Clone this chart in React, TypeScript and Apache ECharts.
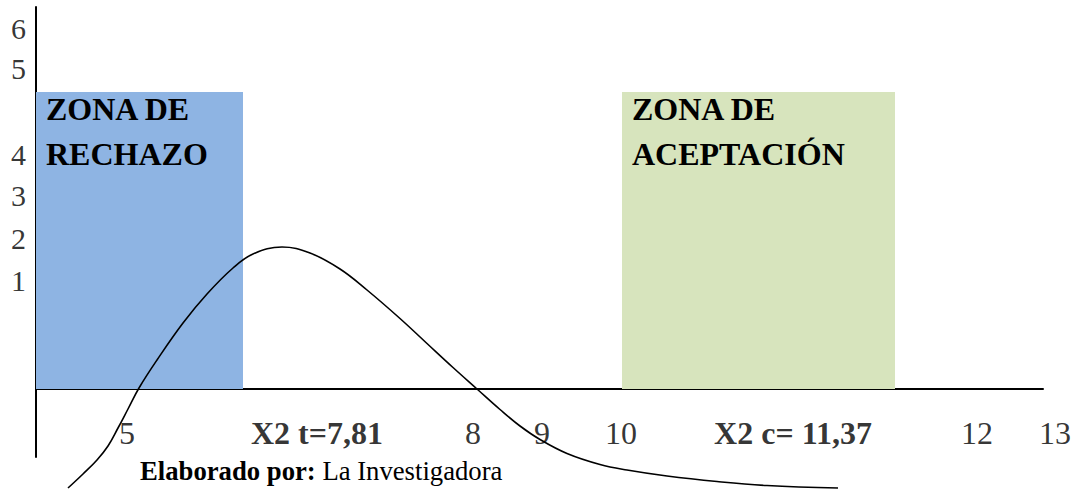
import React, { useEffect, useRef } from "react";
import * as echarts from "echarts";

// Drawing units: x measured along the horizontal axis, y above (+) / below (-) it.
const CURVE_X = [32, 47, 61, 72, 82, 92, 103, 121, 147, 171, 197, 217, 246, 274, 304, 331, 364, 391, 417, 441, 464, 484, 504, 531, 564, 591, 631, 681, 731, 802];
const CURVE_Y = [-99, -85, -71, -57, -39, -20, 1, 29, 66, 95, 121, 135, 142, 136, 120, 99, 70.5, 45.5, 21.5, 0, -20.5, -37, -50.5, -64.5, -75.5, -81, -87, -92.5, -96.5, -99];

const Y_TICK_LABELS = ["6", "5", "4", "3", "2", "1"];
const Y_TICK_POS = [361, 321, 235, 194, 151, 109];

const X_TICK_LABELS = ["5", "X2 t=7,81", "8", "9", "10", "X2 c= 11,37", "12", "13"];
const X_TICK_POS = [91, 281, 437, 506, 585, 757, 941, 1019];
const X_TICK_BOLD = [false, true, false, false, false, true, false, false];

const ZONE_NAMES = ["ZONA DE\nRECHAZO", "ZONA DE\nACEPTACIÓN"];
const ZONE_X0 = [0, 586];
const ZONE_X1 = [207, 859];
const ZONE_TOP = [297, 297];
const ZONE_COLORS = ["#8EB4E3", "#D7E4BD"];

const SERIF = "Liberation Serif";

export default function App() {
  const ref = useRef<HTMLDivElement>(null);
  useEffect(() => {
    if (!ref.current) return;
    const chart = echarts.init(ref.current, null, { renderer: "svg" });
    const curve = CURVE_X.map((x, i) => [x, CURVE_Y[i]]);
    const yLabels = Y_TICK_LABELS.map((t, i) => ({ value: [-17.5, Y_TICK_POS[i], t] }));
    const xLabels = X_TICK_LABELS.map((t, i) => ({
      value: [X_TICK_POS[i], -44, t],
      label: { fontWeight: X_TICK_BOLD[i] ? "bold" : "normal" },
    }));
    const zones = ZONE_NAMES.map((n, i) => [
      {
        name: n,
        xAxis: ZONE_X0[i],
        yAxis: 0,
        itemStyle: { color: ZONE_COLORS[i], opacity: 1 },
      },
      { xAxis: ZONE_X1[i], yAxis: ZONE_TOP[i] },
    ]);
    chart.setOption({
      animation: false,
      backgroundColor: "#fff",
      grid: { left: 36, right: 36, top: 7, bottom: 35 },
      xAxis: {
        type: "value",
        min: 0,
        max: 1007,
        axisLine: { show: true, onZero: true, lineStyle: { color: "#000", width: 2 } },
        axisTick: { show: false },
        axisLabel: { show: false },
        splitLine: { show: false },
      },
      yAxis: {
        type: "value",
        min: -68,
        max: 382,
        axisLine: { show: true, onZero: false, lineStyle: { color: "#000", width: 2 } },
        axisTick: { show: false },
        axisLabel: { show: false },
        splitLine: { show: false },
      },
      series: [
        {
          type: "line",
          data: curve,
          smooth: 0.4,
          clip: false,
          symbol: "none",
          lineStyle: { color: "#000", width: 1.6 },
          z: 5,
          markArea: {
            silent: true,
            label: {
              show: true,
              position: [10, -6],
              color: "#000",
              fontFamily: SERIF,
              fontWeight: "bold",
              fontSize: 32,
              lineHeight: 45,
              align: "left",
              verticalAlign: "top",
            },
            data: zones,
          },
        },
        {
          type: "scatter",
          data: yLabels,
          clip: false,
          symbolSize: 1,
          itemStyle: { color: "transparent" },
          label: {
            show: true,
            position: "inside",
            formatter: (p: any) => p.value[2],
            color: "#000",
            fontFamily: SERIF,
            fontSize: 30,
          },
        },
        {
          type: "scatter",
          data: xLabels,
          clip: false,
          symbolSize: 1,
          itemStyle: { color: "transparent" },
          label: {
            show: true,
            position: "inside",
            formatter: (p: any) => p.value[2],
            color: "#000",
            fontFamily: SERIF,
            fontSize: 32,
          },
        },
      ],
      graphic: [
        {
          type: "text",
          left: 140,
          top: 457,
          style: {
            text: "{b|Elaborado por:} La Investigadora",
            fill: "#000",
            font: `26.7px ${SERIF}`,
            rich: {
              b: { fontWeight: "bold", fontSize: 26.7, fontFamily: SERIF, fill: "#000" },
            },
          },
        },
      ],
    });
    return () => chart.dispose();
  }, []);
  return (
    <div
      ref={ref}
      style={{ position: "fixed", left: 0, top: 0, width: 1079, height: 492 }}
    />
  );
}
